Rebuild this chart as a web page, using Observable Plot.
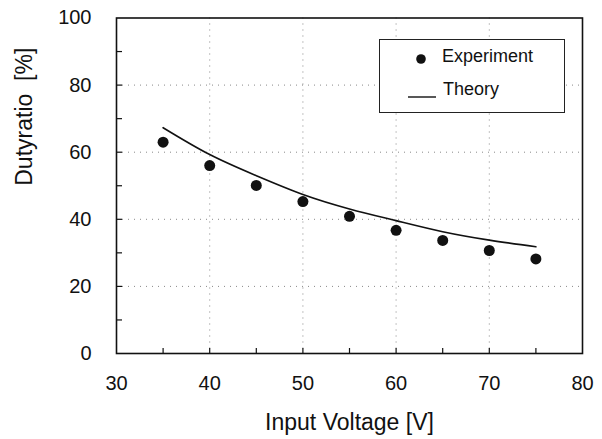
<!DOCTYPE html>
<html>
<head>
<meta charset="utf-8">
<script src="https://cdn.jsdelivr.net/npm/d3@7"></script>
<script src="https://cdn.jsdelivr.net/npm/@observablehq/plot@0.6"></script>
<style>
  html, body { margin: 0; padding: 0; background: #fff; }
  #wrap { position: relative; width: 602px; height: 439px; font-family: "Liberation Sans", Arial, sans-serif; }
  #legend { position: absolute; left: 379px; top: 39px; width: 186px; height: 74px; box-sizing: border-box; border: 1px solid #222; background: #fff; }
</style>
</head>
<body>
<div id="wrap"></div>
<script>
// Data
const voltages = [35, 40, 45, 50, 55, 60, 65, 70, 75];
const experiment = [63.0, 56.0, 50.1, 45.3, 40.9, 36.7, 33.7, 30.7, 28.2];
const theory = [67.3, 59.3, 53.0, 47.4, 43.1, 39.6, 36.3, 33.8, 31.8];
const xTickLabels = [30, 40, 50, 60, 70, 80];
const yTickLabels = [0, 20, 40, 60, 80, 100];
const xMinorTicks = [35, 40, 45, 50, 55, 60, 65, 70, 75];
const yMinorTicks = [10, 20, 30, 40, 50, 60, 70, 80, 90];
const xGrid = [40, 50, 60, 70];
const yGrid = [20, 40, 60, 80];
const xLabel = "Input Voltage [V]";
const yLabel = "Dutyratio  [%]";
const seriesNames = ["Experiment", "Theory"];

const expData = voltages.map((v, i) => ({v, d: experiment[i]}));
const thData = voltages.map((v, i) => ({v, d: theory[i]}));

const font = "Liberation Sans, Arial, sans-serif";
const W = 602, H = 439, mT = 17.5, mB = 86, mL = 116, mR = 20;
const frameH = H - mT - mB, frameW = W - mL - mR;

const chart = Plot.plot({
  width: W,
  height: H,
  marginTop: mT,
  marginBottom: mB,
  marginLeft: mL,
  marginRight: mR,
  style: {fontFamily: font, background: "#fff", color: "#111"},
  x: {domain: [30, 80]},
  y: {domain: [0, 100]},
  marks: [
    Plot.ruleX(xGrid, {stroke: "#555", strokeDasharray: "1,5", strokeOpacity: 0.7}),
    Plot.ruleY(yGrid, {stroke: "#555", strokeDasharray: "1,5", strokeOpacity: 0.7}),
    Plot.tickX(xMinorTicks, {x: d => d, insetTop: frameH - 5, stroke: "#111", strokeWidth: 1.2}),
    Plot.tickY(yMinorTicks, {y: d => d, insetRight: frameW - 6, stroke: "#111", strokeWidth: 1.2}),
    Plot.axisX({ticks: xTickLabels, tickSize: 0, tickPadding: 22, fontSize: 20, label: null, tickFormat: d => String(d)}),
    Plot.axisY({ticks: yTickLabels, tickSize: 0, tickPadding: 25, fontSize: 20, label: null, tickFormat: d => String(d)}),
    Plot.frame({stroke: "#111", strokeWidth: 1.6}),
    Plot.line(thData, {x: "v", y: "d", curve: "natural", stroke: "#111", strokeWidth: 1.6}),
    Plot.dot(expData, {x: "v", y: "d", r: 5.5, fill: "#111", stroke: "none"}),
    Plot.text([xLabel], {text: d => d, frameAnchor: "bottom", lineAnchor: "top", dy: 60, fontSize: 23, fill: "#111"}),
    Plot.text([yLabel], {text: d => d, frameAnchor: "left", rotate: -90, dx: -92, fontSize: 23, fill: "#111"})
  ]
});

const wrap = document.getElementById("wrap");
wrap.appendChild(chart);

// Legend
const legend = document.createElement("div");
legend.id = "legend";
legend.innerHTML = `
<svg width="184" height="72" style="display:block;font-family:${font}">
  <circle cx="41" cy="19" r="4.8" fill="#111"></circle>
  <text x="62" y="22" font-size="18" fill="#111">${seriesNames[0]}</text>
  <line x1="28" x2="56" y1="57" y2="57" stroke="#111" stroke-width="1.4"></line>
  <text x="63" y="55" font-size="18" fill="#111">${seriesNames[1]}</text>
</svg>`;
wrap.appendChild(legend);
</script>
</body>
</html>
